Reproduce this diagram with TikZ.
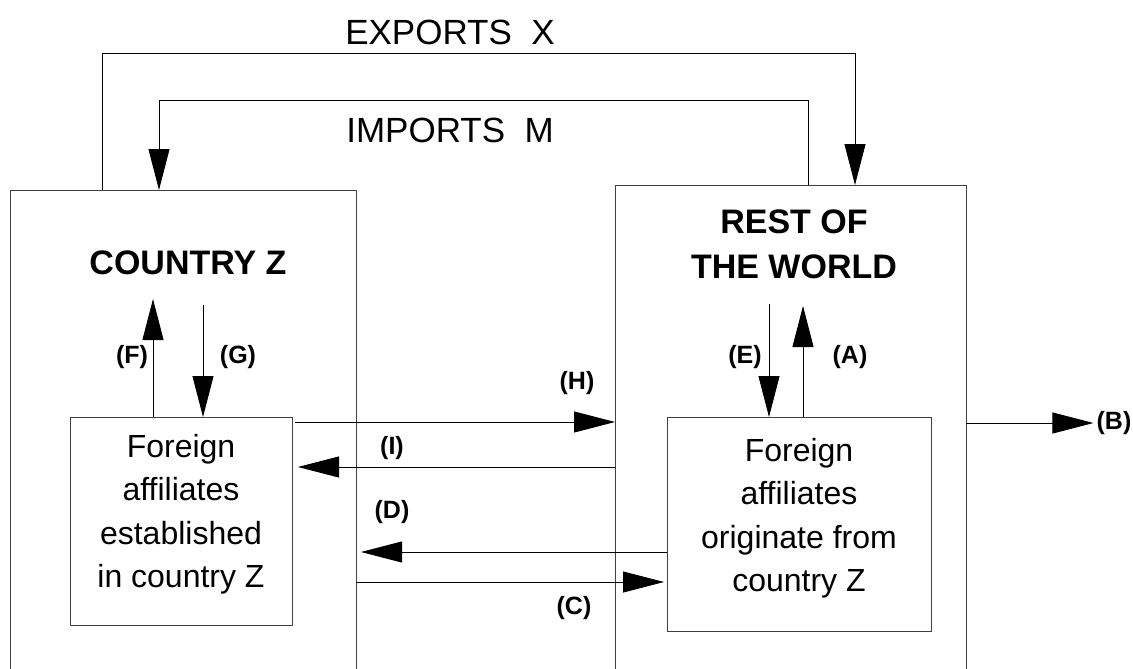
\documentclass[tikz,border=0pt]{standalone}
\usepackage{fontspec}
\setmainfont{Liberation Sans}
\usetikzlibrary{arrows.meta}
\begin{document}
\begin{tikzpicture}[x=1pt,y=-1pt,
  boxline/.style={draw=black!75,line width=1pt},
  region/.style={draw=none,minimum width=#1,inner sep=0pt,outer sep=0pt,anchor=north west},
  inbox/.style={draw=black!75,line width=1pt,inner sep=0pt,outer sep=0pt,anchor=north west},
  flow/.style={draw=black,line width=0.9pt,-{Triangle[length=41pt,width=21pt]}},
  lbl/.style={font=\fontsize{25}{28}\selectfont\bfseries,inner sep=1pt},
  title/.style={font=\fontsize{34}{45}\selectfont\bfseries,align=center,inner sep=0pt},
  body/.style={font=\fontsize{32}{43.5}\selectfont,align=center,inner sep=0pt},
  trade/.style={font=\fontsize{35}{40}\selectfont,inner sep=0pt}]
\useasboundingbox (0,0) rectangle (1133,669);
% big regions (no bottom edge visible)
\node[region=346pt,minimum height=479pt] (cz) at (10,190) {};
\node[region=351pt,minimum height=484pt] (rw) at (615,185) {};
\draw[boxline] (cz.south west) -- (cz.north west) -- (cz.north east) -- (cz.south east);
\draw[boxline] (rw.south west) -- (rw.north west) -- (rw.north east) -- (rw.south east);
% inner boxes
\node[inbox,minimum width=222pt,minimum height=208pt] (fl) at (70,417) {};
\node[inbox,minimum width=264pt,minimum height=214pt] (fr) at (667,417) {};
\node[body] (flt) at (181,514) {Foreign\\affiliates\\established\\in country Z};
\node[body] (frt) at (799,518) {Foreign\\affiliates\\originate from\\country Z};
% titles
\node[title] (czt) at (188,263) {COUNTRY Z};
\node[title] (rwt) at (794,244) {REST OF\\THE WORLD};
\node[trade] (ex) at (450,32) {EXPORTS~~X};
\node[trade] (im) at (450,130) {IMPORTS~~M};
% free ends
\coordinate (Ftop) at (153,299);
\coordinate (Gtop) at (203,305);
\coordinate (Etop) at (769,304);
\coordinate (Atop) at (803,306);
% exports / imports
\draw[flow] (cz.north west) ++(92,0) |- (855,53) -- ([xshift=240pt]rw.north west);
\draw[flow] (rw.north west) ++(193,0) |- (159,100) -- ([xshift=149pt]cz.north west);
% vertical flows
\draw[flow] ([xshift=83pt]fl.north west) -- (Ftop);
\draw[flow] (Gtop) -- ([xshift=133pt]fl.north west);
\draw[flow] (Etop) -- ([xshift=102pt]fr.north west);
\draw[flow] ([xshift=136pt]fr.north west) -- (Atop);
% horizontal flows
\draw[flow] (fl.north east) ++(3,5) -- (rw.north west |- 0,422);
\draw[flow] (rw.north west |- 0,467) -- ([xshift=6pt]fl.north east |- 0,467);
\draw[flow] (fr.north west |- 0,552) -- ([xshift=5pt]cz.north east |- 0,552);
\draw[flow] (cz.north east |- 0,582) -- ([xshift=-3pt]fr.north west |- 0,582);
\node[lbl] (lB) at (1114,423) {(B)};
\draw[flow] (rw.north east |- 0,423) -- ([xshift=-2pt]lB.west);
% labels
\node[lbl] (lF) at (132,357) {(F)};
\node[lbl] (lG) at (238,357) {(G)};
\node[lbl] (lE) at (745,357) {(E)};
\node[lbl] (lA) at (850,357) {(A)};
\node[lbl] (lH) at (577,383) {(H)};
\node[lbl] (lI) at (392,448) {(I)};
\node[lbl] (lD) at (392,512) {(D)};
\node[lbl] (lC) at (574,608) {(C)};
\end{tikzpicture}
\end{document}
